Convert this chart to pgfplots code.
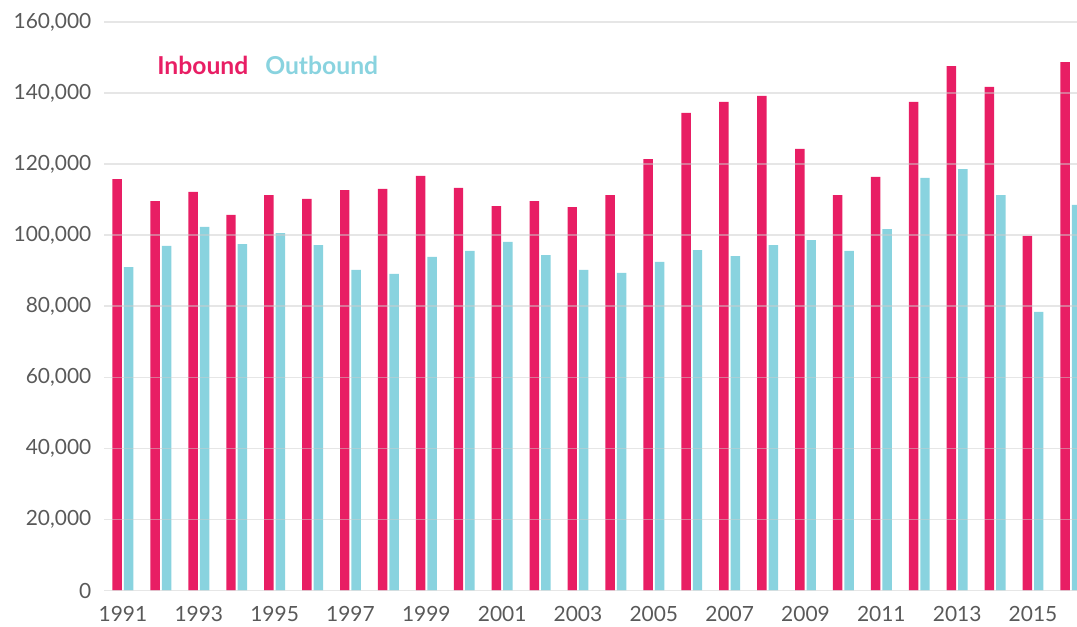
\documentclass[border=0pt]{standalone}
\usepackage{pgfplots}
\pgfplotsset{compat=1.18}
\usepackage{pgfplotstable}
\usepackage{fontspec}
\setmainfont{Lato}
\definecolor{inb}{RGB}{232,30,100}
\definecolor{outb}{RGB}{137,211,223}
\definecolor{tickgray}{RGB}{89,89,89}
\definecolor{gridgray}{RGB}{205,205,205}
\pgfplotstableread{
year inbound outbound
1991 115800 91000
1992 109600 97000
1993 112200 102300
1994 105700 97500
1995 111300 100600
1996 110200 97200
1997 112700 90200
1998 113000 89100
1999 116700 93900
2000 113300 95600
2001 108200 98100
2002 109600 94400
2003 107900 90200
2004 111300 89400
2005 121400 92500
2006 134400 95800
2007 137500 94100
2008 139200 97200
2009 124300 98600
2010 111300 95600
2011 116400 101700
2012 137500 116100
2013 147600 118600
2014 141700 111300
2015 99800 78400
2016 148700 108500
}\datatable
\begin{document}
\begin{tikzpicture}
\begin{axis}[
  name=ax,
  scale only axis,
  width=729.75pt, height=426.4pt,
  xmin=1990.5, xmax=2016.16,
  ymin=0, ymax=160000,
  scaled y ticks=false,
  scaled x ticks=false,
  ytick={0,20000,40000,60000,80000,100000,120000,140000,160000},
  yticklabels={0,{20,000},{40,000},{60,000},{80,000},{100,000},{120,000},{140,000},{160,000}},
  xtick={1991,1993,1995,1997,1999,2001,2003,2005,2007,2009,2011,2013,2015},
  xticklabels={1991,1993,1995,1997,1999,2001,2003,2005,2007,2009,2011,2013,2015},
  axis line style={draw=none},
  major tick length=0pt,
  ymajorgrids=true,
  grid style={gridgray, line width=1.1pt, opacity=0.5},
  axis on top=true,
  clip=true,
  yticklabel style={font=\fontsize{15.7}{18}\selectfont, text=tickgray, xshift=-6pt},
  xticklabel style={font=\fontsize{15.7}{18}\selectfont, text=tickgray, yshift=-8pt},
  ybar, bar width=7.1pt,
]
\addplot[fill=inb, draw=none, bar shift=-4.3pt] table[x=year, y=inbound] {\datatable};
\addplot[fill=outb, draw=none, bar shift=4.3pt] table[x=year, y=outbound] {\datatable};
\node[anchor=base west, inner sep=0pt, text=inb, font=\bfseries\fontsize{18.5}{22}\selectfont] at (rel axis cs:0.0545,0.9068) {Inbound};
\node[anchor=base west, inner sep=0pt, text=outb, font=\bfseries\fontsize{18.5}{22}\selectfont] at (rel axis cs:0.1655,0.9068) {Outbound};
\end{axis}
\pgfresetboundingbox
\useasboundingbox ([shift={(-78pt,-27.375pt)}]ax.south west) rectangle ([shift={(729.75pt,442.875pt)}]ax.south west);
\end{tikzpicture}
\end{document}
